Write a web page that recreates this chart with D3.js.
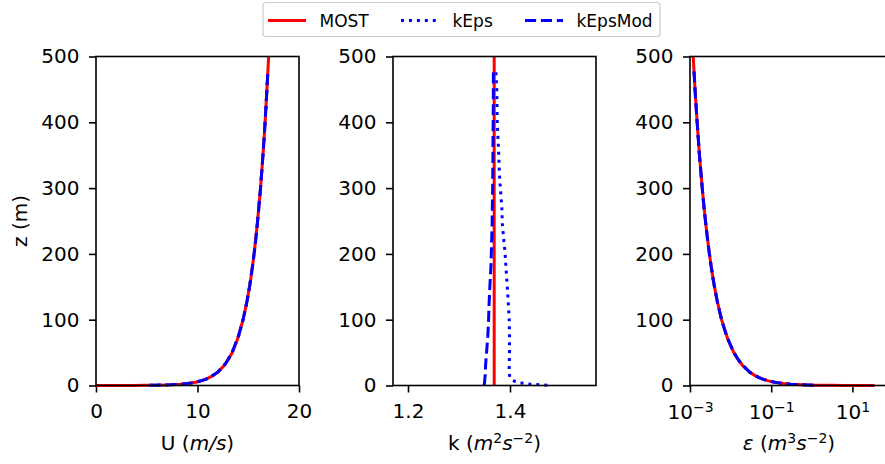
<!DOCTYPE html>
<html><head><meta charset="utf-8">
<script src="https://cdn.jsdelivr.net/npm/d3@7"></script>
<style>
body{margin:0;background:#fff}
svg text{font-family:"DejaVu Sans",sans-serif;fill:#000}
</style>
</head><body>
<svg id="c" width="885" height="464"></svg>
<script>
// ---------- data ----------
const zMOST   = [0.0094,0.02,0.05,0.1,0.2,0.5,1,2,3,5,7,10,15,20,30,40,50,70,100,130,160,200,250,300,350,400,450,500];
const uMOST   = [0,1.18,2.61,3.70,4.78,6.21,7.29,8.38,9.01,9.81,10.34,10.89,11.53,11.98,12.61,13.06,13.41,13.93,14.49,14.90,15.23,15.58,15.92,16.21,16.45,16.66,16.84,17.01];
const kMOST   = [1.369,1.369,1.369,1.369,1.369,1.369,1.369,1.369,1.369,1.369,1.369,1.369,1.369,1.369,1.369,1.369,1.369,1.369,1.369,1.369,1.369,1.369,1.369,1.369,1.369,1.369,1.369,1.369];
const epsMOST = [35,30,12,6,3,1.2,0.6,0.3,0.2,0.12,0.0857,0.06,0.04,0.03,0.02,0.015,0.012,0.00857,0.006,0.00462,0.00375,0.003,0.0024,0.002,0.00171,0.0015,0.00133,0.0012];

const zSim       = [0.3,1,2,4,6,9,12,20,33,50,75,100,125,150,180,205,220,245,270,300,325,350,375,400,425,450,480];
const uKEps      = [5.3,7.29,8.38,9.46,10.10,10.73,11.18,11.98,12.76,13.41,14.04,14.49,14.84,15.13,15.41,15.61,15.73,15.89,16.04,16.21,16.33,16.45,16.56,16.66,16.75,16.84,16.94];
const uKEpsMod   = [5.3,7.29,8.38,9.46,10.10,10.73,11.18,11.98,12.76,13.41,14.04,14.49,14.84,15.13,15.41,15.61,15.73,15.89,16.04,16.21,16.33,16.45,16.56,16.66,16.75,16.84,16.94];
const kKEps      = [1.473,1.465,1.44,1.42,1.41,1.403,1.400,1.398,1.3987,1.399,1.399,1.3985,1.3967,1.3947,1.392,1.390,1.388,1.385,1.384,1.381,1.379,1.378,1.3765,1.375,1.3745,1.374,1.372];
const kKEpsMod   = [1.349,1.3492,1.3495,1.350,1.3502,1.3505,1.351,1.3515,1.3523,1.354,1.3565,1.358,1.359,1.3605,1.3625,1.3635,1.364,1.365,1.3653,1.366,1.3663,1.3665,1.3667,1.367,1.3672,1.3673,1.3675];
const epsKEps    = [1.1,0.6,0.3,0.15,0.1,0.0667,0.05,0.03,0.0182,0.012,0.008,0.006,0.0048,0.004,0.00333,0.00293,0.00273,0.00245,0.00222,0.002,0.00185,0.00171,0.0016,0.0015,0.00141,0.00133,0.00125];
const epsKEpsMod = [1.1,0.6,0.3,0.15,0.1,0.0667,0.05,0.03,0.0182,0.012,0.008,0.006,0.0048,0.004,0.00333,0.00293,0.00273,0.00245,0.00222,0.002,0.00185,0.00171,0.0016,0.0015,0.00141,0.00133,0.00125];

const seriesNames = ["MOST","kEps","kEpsMod"];
const zTicks   = [0,100,200,300,400,500];
const uTicks   = [0,10,20];
const kTicks   = [1.2,1.4];
const epsTicks = [1e-3,1e-1,1e1];
const epsTickExp = ["\u22123","\u22121","1"];

// ---------- layout ----------
const svg = d3.select("#c");
const TOP = 56.5, BOT = 385.5, TICK = 7, FS = 20;
const y = d3.scaleLinear().domain([0,500]).range([BOT,TOP]);
const xU = d3.scaleLinear().domain([0,20]).range([96,299]);
const xK = d3.scaleLinear().domain([1.1706,1.5686]).range([393,596]);
const xE = d3.scaleLog().domain([1e-3,1e2]).range([690,893]);

const styles = {
  MOST:    {color:"#ff0000", dash:null},
  kEps:    {color:"#0000ff", dash:"3,4.95"},
  kEpsMod: {color:"#0000ff", dash:"11.1,4.8"}
};

function panel(x, xticks, fmt){
  const g = svg.append("g");
  const [x0,x1] = x.range();
  const ya = g.append("g").attr("transform",`translate(${x0},0)`)
    .call(d3.axisLeft(y).tickValues(zTicks).tickSize(TICK).tickPadding(9.5));
  const xa = g.append("g").attr("transform",`translate(0,${BOT})`)
    .call(d3.axisBottom(x).tickValues(xticks).tickSize(TICK).tickPadding(11).tickFormat(fmt));
  [ya,xa].forEach(a=>{
    a.select(".domain").remove();
    a.selectAll(".tick line").attr("stroke","#000").attr("stroke-width",1.6);
    a.selectAll(".tick text").attr("font-size",FS).attr("fill","#000")
      .style("font-family","DejaVu Sans, sans-serif");
  });
  return {g, xa, x0, x1};
}

function drawLines(p, x, sets){
  const cg = p.g.append("g");
  sets.forEach(s=>{
    const line = d3.line().x(i=>x(s.xv[i])).y(i=>y(s.z[i]));
    const st = styles[s.name];
    cg.append("path").attr("d", line(d3.range(s.z.length)))
      .attr("fill","none").attr("stroke",st.color).attr("stroke-width",3)
      .attr("stroke-dasharray",st.dash).attr("stroke-linejoin","round");
  });
}
function frame(p){
  p.g.append("rect").attr("x",p.x0).attr("y",TOP).attr("width",p.x1-p.x0).attr("height",BOT-TOP)
    .attr("fill","none").attr("stroke","#000").attr("stroke-width",1.6);
}

// panel 1: U
const p1 = panel(xU, uTicks, d3.format("d"));
drawLines(p1, xU, [
  {name:"kEps", z:zSim, xv:uKEps},
  {name:"MOST", z:zMOST, xv:uMOST},
  {name:"kEpsMod", z:zSim, xv:uKEpsMod}
]);
frame(p1);

// panel 2: k
const p2 = panel(xK, kTicks, d3.format(".1f"));
drawLines(p2, xK, [
  {name:"kEps", z:zSim, xv:kKEps},
  {name:"MOST", z:zMOST, xv:kMOST},
  {name:"kEpsMod", z:zSim, xv:kKEpsMod}
]);
frame(p2);

// panel 3: epsilon (log)
const p3 = panel(xE, epsTicks, ()=>"");
p3.xa.selectAll(".tick text").each(function(d,i){
  const t = d3.select(this).attr("dy",null).attr("y",33);
  t.append("tspan").text("10");
  t.append("tspan").attr("font-size",14).attr("dy",-6.5).text(epsTickExp[i]);
});
drawLines(p3, xE, [
  {name:"kEps", z:zSim, xv:epsKEps},
  {name:"MOST", z:zMOST, xv:epsMOST},
  {name:"kEpsMod", z:zSim, xv:epsKEpsMod}
]);
frame(p3);

// axis labels
function mathLabel(cx, parts){
  const t = svg.append("text").attr("x",cx).attr("y",450).attr("text-anchor","middle").attr("font-size",FS);
  parts.forEach(p=>{
    const s = t.append("tspan").text(p.t);
    if(p.i) s.attr("font-style","italic");
    if(p.sup){ s.attr("font-size",14).attr("dy",-7); }
    if(p.down){ s.attr("dy",7); }
  });
}
mathLabel((96+299)/2, [{t:"U ("},{t:"m/s",i:1},{t:")"}]);
mathLabel((393+596)/2, [{t:"k ("},{t:"m",i:1},{t:"2",sup:1},{t:"s",i:1,down:1},{t:"\u22122",sup:1},{t:")",down:1}]);
mathLabel(789, [{t:"\u03b5",i:1},{t:" ("},{t:"m",i:1},{t:"3",sup:1},{t:"s",i:1,down:1},{t:"\u22122",sup:1},{t:")",down:1}]);

svg.append("text").attr("transform",`translate(26.5,${(TOP+BOT)/2}) rotate(-90)`)
  .attr("text-anchor","middle").attr("font-size",FS).text("z (m)");

// legend
const lg = svg.append("g");
lg.append("rect").attr("x",263).attr("y",2.5).attr("width",397).attr("height",34).attr("rx",3)
  .attr("fill","#fff").attr("fill-opacity",0.8).attr("stroke","#cccccc").attr("stroke-width",1.2);
const legX = [268,401,525];
seriesNames.forEach((n,i)=>{
  const st = styles[n];
  lg.append("line").attr("x1",legX[i]).attr("x2",legX[i]+38).attr("y1",20.5).attr("y2",20.5)
    .attr("stroke",st.color).attr("stroke-width",3).attr("stroke-dasharray",st.dash);
  lg.append("text").attr("x",legX[i]+51.5).attr("y",27).attr("font-size",17).text(n);
});
</script>
</body></html>
